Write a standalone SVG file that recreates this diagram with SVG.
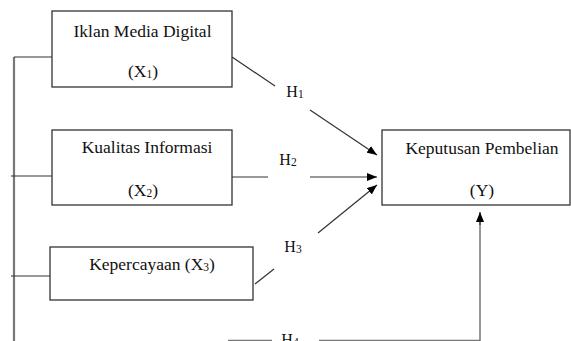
<svg xmlns="http://www.w3.org/2000/svg" width="571" height="341" viewBox="0 0 571 341">
<defs>
<marker id="ah" viewBox="0 0 10 8" refX="10" refY="4" markerWidth="10" markerHeight="8" markerUnits="userSpaceOnUse" orient="auto">
<path d="M0,0 L10,4 L0,8 Z" fill="#000"/>
</marker>
</defs>
<style>
.box{fill:#fff;stroke:#333;stroke-width:1.3}
.t{font-family:"Liberation Serif","Times New Roman",serif;font-size:17.5px;fill:#111;text-anchor:middle}
.sub{font-size:11.5px}
.ln{stroke:#333;stroke-width:1.2;fill:none}
.gl{stroke:#777;stroke-width:1.5;fill:none}
</style>
<rect width="571" height="341" fill="#fff"/>
<g id="connectors">
<line class="gl" x1="14" y1="57" x2="14" y2="341" style="stroke-width:2.2"/>
<line class="ln" x1="14" y1="57" x2="52" y2="57"/>
<line class="ln" x1="11" y1="176" x2="52" y2="176"/>
<line class="ln" x1="11" y1="276" x2="50" y2="276"/>
<line class="ln" x1="232" y1="57" x2="275" y2="86"/>
<line class="ln" x1="310" y1="110" x2="377" y2="155" marker-end="url(#ah)"/>
<line class="gl" x1="232" y1="177" x2="268" y2="177"/>
<line class="ln" x1="310" y1="177" x2="377" y2="177" marker-end="url(#ah)"/>
<line class="ln" x1="255" y1="284" x2="274" y2="269"/>
<line class="ln" x1="318" y1="233" x2="377" y2="185" marker-end="url(#ah)"/>
<line class="gl" x1="228" y1="340.5" x2="272" y2="340.5"/>
<polyline class="gl" points="319,340.5 480,340.5 480,222"/>
<line class="ln" x1="480" y1="225" x2="480" y2="212" marker-end="url(#ah)"/>
<text class="t" x="295" y="97" style="font-size:16px">H<tspan class="sub" dy="1">1</tspan></text>
<text class="t" x="288" y="165" style="font-size:16px">H<tspan class="sub" dy="1">2</tspan></text>
<text class="t" x="293" y="252" style="font-size:16px">H<tspan class="sub" dy="1">3</tspan></text>
<text class="t" x="290" y="345" style="font-size:16px">H<tspan class="sub" dy="1">4</tspan></text>
</g>
<g id="x1">
<rect class="box" x="52" y="11" width="180" height="76"/>
<text class="t" x="142.5" y="37">Iklan Media Digital</text>
<text class="t" x="143" y="77">(X<tspan class="sub" dy="1">1</tspan><tspan dy="-1">)</tspan></text>
</g>
<g id="x2">
<rect class="box" x="52" y="130" width="180" height="75"/>
<text class="t" x="147" y="153">Kualitas Informasi</text>
<text class="t" x="143" y="196">(X<tspan class="sub" dy="1">2</tspan><tspan dy="-1">)</tspan></text>
</g>
<g id="x3">
<rect class="box" x="50" y="247" width="203" height="53"/>
<text class="t" x="152" y="270">Kepercayaan (X<tspan class="sub" dy="1">3</tspan><tspan dy="-1">)</tspan></text>
</g>
<g id="y">
<rect class="box" x="382" y="130" width="188" height="75"/>
<text class="t" x="482" y="154">Keputusan Pembelian</text>
<text class="t" x="482" y="196">(Y)</text>
</g>
</svg>
